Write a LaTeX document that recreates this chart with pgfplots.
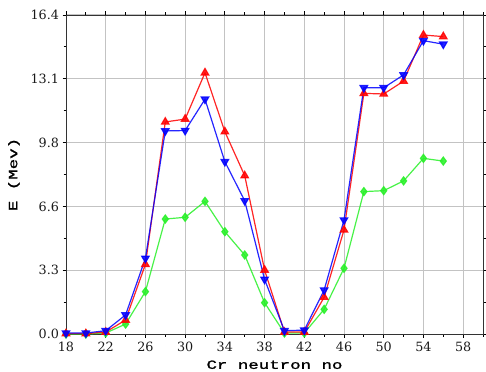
\documentclass[border=0pt]{standalone}
\usepackage{fontspec}
\setmainfont{DejaVu Serif}
\newfontfamily\labfont[FakeStretch=1.4,FakeBold=1.5]{Liberation Mono}
\usepackage{pgfplots}
\pgfplotsset{compat=1.18}
\definecolor{cred}{RGB}{255,0,0}
\definecolor{cblue}{RGB}{0,0,255}
\definecolor{cgreen}{RGB}{40,240,40}
\definecolor{gridc}{RGB}{195,195,195}
\begin{document}
\begin{tikzpicture}
\begin{axis}[
  scale only axis,
  width=417bp, height=319bp,
  xmin=18, xmax=60, ymin=0, ymax=16.4,
  xtick={18,22,...,58},
  minor xtick={20,24,...,60},
  ytick={0,3.28,6.56,9.84,13.12,16.4},
  yticklabels={0.0,3.3,6.6,9.8,13.1,16.4},
  minor ytick={1.64,4.92,8.2,11.48,14.76},
  tick align=outside,
  major tick length=3.5bp,
  minor tick length=2.5bp,
  tick style={black, line width=0.8bp},
  xmajorgrids, ymajorgrids,
  major grid style={gridc, line width=1bp},
  axis line style={black!80, line width=0.9bp},
  ticklabel style={font=\fontsize{12.8}{14}\selectfont, text=black!90},
  /pgf/number format/assume math mode=true,
  xticklabel style={yshift=-1bp},
  xlabel={\labfont Cr neutron no},
  ylabel={\labfont E (Mev)},
  xlabel style={font=\fontsize{12.5}{14}\selectfont, yshift=-2bp},
  ylabel style={font=\fontsize{12.5}{14}\selectfont, yshift=4bp},
  every axis plot/.append style={line width=1.2bp, opacity=0.85},
]
\addplot[cgreen, mark=diamond*, mark size=4bp, mark options={fill=cgreen, draw=cgreen}] coordinates {
(18,0.0)(20,0.0)(22,0.05)(24,0.51)(26,2.18)(28,5.91)(30,6.0)(32,6.82)(34,5.26)(36,4.06)(38,1.61)(40,0.05)(42,0.05)(44,1.27)(46,3.38)(48,7.32)(50,7.37)(52,7.87)(54,9.03)(56,8.89)
};
\addplot[cred, mark=triangle*, mark size=4.3bp, mark options={fill=cred, draw=cred}] coordinates {
(18,0.02)(20,0.02)(22,0.1)(24,0.72)(26,3.58)(28,10.9)(30,11.05)(32,13.43)(34,10.4)(36,8.14)(38,3.29)(40,0.1)(42,0.1)(44,1.89)(46,5.35)(48,12.37)(50,12.34)(52,13.0)(54,15.37)(56,15.29)
};
\addplot[cblue, mark=triangle*, mark size=4.3bp, mark options={fill=cblue, draw=cblue, rotate=180}] coordinates {
(18,0.05)(20,0.05)(22,0.17)(24,0.98)(26,3.89)(28,10.44)(30,10.46)(32,12.07)(34,8.86)(36,6.85)(38,2.81)(40,0.17)(42,0.2)(44,2.26)(46,5.86)(48,12.66)(50,12.66)(52,13.32)(54,15.08)(56,14.9)
};
\end{axis}
\pgfresetboundingbox
\path[use as bounding box] ([shift={(-66bp,-37bp)}]current axis.south west) rectangle ([shift={(3bp,15bp)}]current axis.north east);
\end{tikzpicture}
\end{document}
